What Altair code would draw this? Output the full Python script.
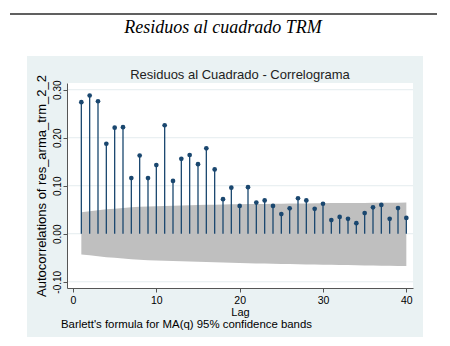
import altair as alt
import pandas as pd

# ---- data ----
lags = list(range(1, 41))
acf = [0.274, 0.288, 0.276, 0.1875, 0.221, 0.222, 0.116, 0.163, 0.116, 0.143,
       0.226, 0.110, 0.156, 0.164, 0.145, 0.178, 0.134, 0.072, 0.096, 0.058,
       0.097, 0.065, 0.0695, 0.058, 0.041, 0.053, 0.074, 0.0695, 0.052, 0.0625,
       0.0285, 0.035, 0.031, 0.022, 0.043, 0.055, 0.060, 0.031, 0.0535, 0.033]
band_upper = [0.045, 0.047, 0.049, 0.051, 0.052, 0.0535, 0.055, 0.056, 0.057, 0.0575,
              0.058, 0.0585, 0.059, 0.0595, 0.060, 0.0603, 0.0606, 0.061, 0.0612, 0.0615,
              0.0618, 0.062, 0.0622, 0.0624, 0.0626, 0.0628, 0.063, 0.0632, 0.0634, 0.0636,
              0.0638, 0.064, 0.0641, 0.0642, 0.0643, 0.0644, 0.0645, 0.0646, 0.0648, 0.065]
band_lower = [-0.043, -0.045, -0.047, -0.049, -0.050, -0.0515, -0.053, -0.054, -0.055, -0.0555,
              -0.056, -0.057, -0.0575, -0.058, -0.0585, -0.059, -0.0595, -0.060, -0.0605, -0.061,
              -0.0615, -0.062, -0.0622, -0.0625, -0.063, -0.0632, -0.0635, -0.064, -0.0642, -0.0645,
              -0.0648, -0.065, -0.0652, -0.0655, -0.066, -0.0662, -0.0665, -0.0668, -0.067, -0.067]
x_ticks = [0, 10, 20, 30, 40]
y_ticks = [-0.1, 0.0, 0.1, 0.2, 0.3]

main_title = "Residuos al cuadrado TRM"
inner_title = "Residuos al Cuadrado - Correlograma"
y_title = "Autocorrelations of res_arma_trm_2_2"
x_title = "Lag"
note = "Barlett's formula for MA(q) 95% confidence bands"

df = pd.DataFrame({"lag": lags, "acf": acf, "upper": band_upper, "lower": band_lower})
df["base"] = 0.0
grid_df = pd.DataFrame({"y": y_ticks})
one = pd.DataFrame({"k": [0]})

W, H = 346, 205
FONT = "Liberation Sans"
NAVY = "#1a476f"

xscale = alt.Scale(domain=[-0.72, 40.8], nice=False, zero=False)
yscale = alt.Scale(domain=[-0.113, 0.314], nice=False, zero=False)

x_axis = alt.Axis(values=x_ticks, title=x_title, grid=False, format="d", zindex=2,
                  domainColor="#555555", tickColor="#555555", tickSize=4,
                  labelFont=FONT, labelFontSize=10.5, labelColor="black",
                  labelPadding=3, labelFlush=False,
                  titleFont=FONT, titleFontSize=11, titleFontWeight="normal",
                  titleColor="black", titlePadding=1)
y_axis = alt.Axis(values=y_ticks, title=y_title, grid=False, zindex=2,
                  labelExpr="replace(format(datum.value, '.2f'), '\u2212', '-')",
                  labelAngle=270, labelAlign="center", labelBaseline="bottom",
                  domainColor="#555555", tickColor="#555555", tickSize=4,
                  labelFont=FONT, labelFontSize=10, labelColor="black",
                  labelPadding=1, labelFlush=False,
                  titleFont=FONT, titleFontSize=13, titleFontWeight="normal",
                  titleColor="black", titlePadding=4)

X = alt.X("lag:Q", scale=xscale, axis=x_axis)
Y = alt.Y("acf:Q", scale=yscale, axis=y_axis)

top_rule = alt.Chart(one).mark_rule(color="#2b2b2b", strokeWidth=1.5).encode(
    x=alt.value(-57), x2=alt.value(370), y=alt.value(-69))
title_txt = alt.Chart(one).mark_text(font="Liberation Serif", fontStyle="italic",
                                     fontSize=18, align="center", baseline="alphabetic",
                                     color="black").encode(
    x=alt.value(156), y=alt.value(-50), text=alt.value(main_title))
panel = alt.Chart(one).mark_rect(color="#eaf2f3").encode(
    x=alt.value(-40), x2=alt.value(356), y=alt.value(-27), y2=alt.value(254))
plotbg = alt.Chart(one).mark_rect(color="white").encode(
    x=alt.value(0), x2=alt.value(W), y=alt.value(0), y2=alt.value(H))
inner_txt = alt.Chart(one).mark_text(font=FONT, fontSize=13, align="center",
                                     baseline="middle", color="#222222").encode(
    x=alt.value(173), y=alt.value(-8), text=alt.value(inner_title))
note_txt = alt.Chart(one).mark_text(font=FONT, fontSize=11.4, align="left",
                                    baseline="alphabetic", color="black").encode(
    x=alt.value(-6), y=alt.value(245), text=alt.value(note))

grid = alt.Chart(grid_df).mark_rule(color="#e4ecef", strokeWidth=1).encode(
    y=alt.Y("y:Q", scale=yscale, axis=y_axis), x=alt.value(0), x2=alt.value(W))
band = alt.Chart(df).mark_area(color="#bfbfbf", opacity=1).encode(
    x=X, y=alt.Y("upper:Q", scale=yscale, axis=y_axis), y2="lower:Q")
stems = alt.Chart(df).mark_rule(color=NAVY, strokeWidth=1.3).encode(
    x=X, y=Y, y2="base:Q")
dots = alt.Chart(df).mark_circle(color=NAVY, size=22, opacity=1).encode(x=X, y=Y)

chart = alt.layer(panel, plotbg, grid, band, stems, dots,
                  top_rule, title_txt, inner_txt, note_txt).properties(
    width=W, height=H,
    padding={"left": 67, "top": 83, "right": 37, "bottom": 58},
    autosize=alt.AutoSizeParams(type="none"),
    background="white",
).configure_view(stroke=None)

chart.save("out.html", embed_options={"renderer": "svg", "actions": False})
